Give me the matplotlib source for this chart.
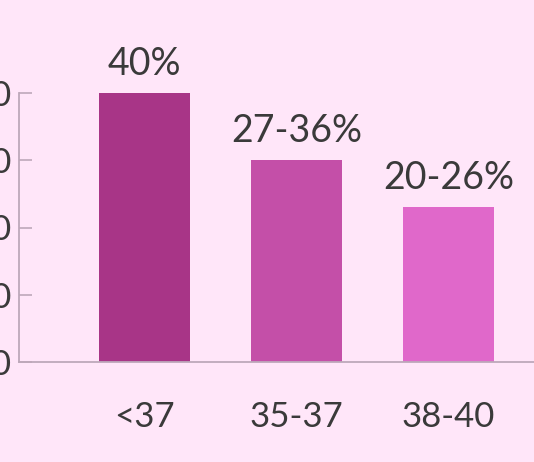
import matplotlib
matplotlib.use("Agg")
import matplotlib.pyplot as plt

# data
categories = ["<37", "35-37", "38-40"]
values = [40, 30, 23]
bar_labels = ["40%", "27-36%", "20-26%"]
y_ticks = [0, 10, 20, 30, 40]

bar_colors = ["#A83587", "#C44FA8", "#E068CA"]
background = "#FFE6F9"
text_color = "#3A3A3A"
axis_color = "#BDA8BA"


def main():
    plt.rcParams["font.family"] = ["Lato", "DejaVu Sans"]

    fig = plt.figure(figsize=(5.34, 4.62), dpi=100, facecolor=background)
    ax = fig.add_axes([18.5 / 534, 100 / 462, 1 - 18.5 / 534, 269 / 462])
    ax.set_facecolor(background)

    positions = list(range(len(categories)))
    bars = ax.bar(positions, values, width=0.6, color=bar_colors)

    for bar, label in zip(bars, bar_labels):
        ax.annotate(
            label,
            (bar.get_x() + bar.get_width() / 2, bar.get_height()),
            xytext=(0, 21),
            textcoords="offset points",
            ha="center",
            va="center",
            fontsize=27,
            color=text_color,
            annotation_clip=False,
        )

    ax.set_xlim(-0.829, 2.5625)
    ax.set_ylim(0, 40)

    ax.set_xticks(positions)
    ax.set_xticklabels(categories)
    ax.set_yticks(y_ticks)

    ax.tick_params(axis="x", length=0, pad=28, labelsize=25, labelcolor=text_color)
    ax.tick_params(
        axis="y",
        direction="in",
        length=9.5,
        width=1.2,
        color=axis_color,
        pad=5,
        labelsize=25,
        labelcolor=text_color,
    )

    ax.spines["top"].set_visible(False)
    ax.spines["right"].set_visible(False)
    for side in ["left", "bottom"]:
        ax.spines[side].set_color(axis_color)
        ax.spines[side].set_linewidth(1.3)

    fig.savefig("out.png", dpi=100, facecolor=background)
    plt.close(fig)


if __name__ == "__main__":
    main()
